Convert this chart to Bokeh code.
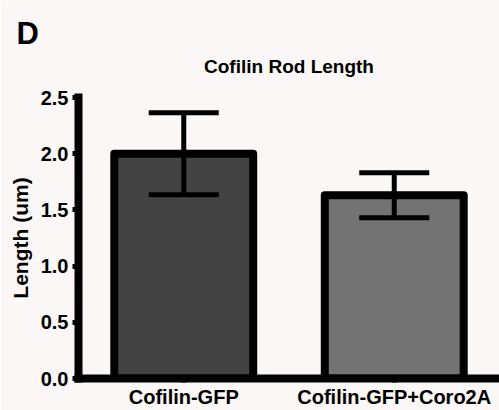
from bokeh.plotting import figure
from bokeh.models import (ColumnDataSource, FactorRange, Range1d, FixedTicker,
                          PrintfTickFormatter, Whisker, TeeHead, Title)
from bokeh.embed import file_html
from bokeh.resources import INLINE

# ---- data ----
categories = ["Cofilin-GFP", "Cofilin-GFP+Coro2A"]
means = [2.0, 1.63]
errors = [0.365, 0.20]
bar_colors = ["#434343", "#737373"]
y_ticks = [0.0, 0.5, 1.0, 1.5, 2.0, 2.5]
chart_title = "Cofilin Rod Length"
panel_letter = "D"
y_label = "Length (um)"

FONT = "Liberation Sans"
BG = "#faf7f6"

src = ColumnDataSource(dict(
    cat=categories,
    mean=means,
    upper=[m + e for m, e in zip(means, errors)],
    lower=[m - e for m, e in zip(means, errors)],
    color=bar_colors,
))

p = figure(width=499, height=410, output_backend="svg", toolbar_location=None,
           x_range=FactorRange(*categories, range_padding=0),
           y_range=Range1d(0, 2.5),
           min_border_left=78, min_border_right=0, min_border_bottom=31,
           min_border_top=97, background_fill_color=BG, border_fill_color=BG,
           outline_line_color=None)

p.vbar(x="cat", top="mean", width=0.66, source=src, fill_color="color",
       line_color="black", line_width=8, line_join="round")

w = Whisker(source=src, base="cat", upper="upper", lower="lower",
            line_color="black", line_width=5, level="overlay",
            upper_head=TeeHead(size=70, line_width=5, line_color="black"),
            lower_head=TeeHead(size=70, line_width=5, line_color="black"))
p.add_layout(w)

p.xgrid.visible = False
p.ygrid.visible = False

for ax in (p.xaxis[0], p.yaxis[0]):
    ax.axis_line_width = 8
    ax.axis_line_color = "black"
    ax.axis_line_cap = "square"
    ax.major_tick_line_width = 5
    ax.major_tick_line_color = "black"
    ax.major_tick_in = 0
    ax.minor_tick_line_color = None
    ax.major_label_text_font = FONT
    ax.major_label_text_font_style = "bold"
    ax.major_label_text_font_size = "20px"
    ax.major_label_text_color = "black"

p.yaxis.ticker = FixedTicker(ticks=y_ticks)
p.yaxis.formatter = PrintfTickFormatter(format="%.1f")
p.yaxis.major_tick_out = 6
p.yaxis.major_label_standoff = 4
p.yaxis.axis_label = y_label
p.yaxis.axis_label_text_font = FONT
p.yaxis.axis_label_text_font_style = "bold"
p.yaxis.axis_label_text_font_size = "21px"
p.yaxis.axis_label_text_color = "black"
p.yaxis.axis_label_standoff = 6

p.xaxis.major_tick_out = 4
p.xaxis.major_label_standoff = 3

# panel letter as the figure title (outermost)
p.title.text = panel_letter
p.title.align = "left"
p.title.offset = -62
p.title.text_font = FONT
p.title.text_font_style = "bold"
p.title.text_font_size = "31px"
p.title.text_color = "black"
p.title.standoff = -36

main_title = Title(text=chart_title, align="center", text_font=FONT,
                   text_font_style="bold", text_font_size="19px",
                   text_color="black", standoff=42)
p.add_layout(main_title, "above")

open("out.html", "w").write(file_html(p, INLINE))
